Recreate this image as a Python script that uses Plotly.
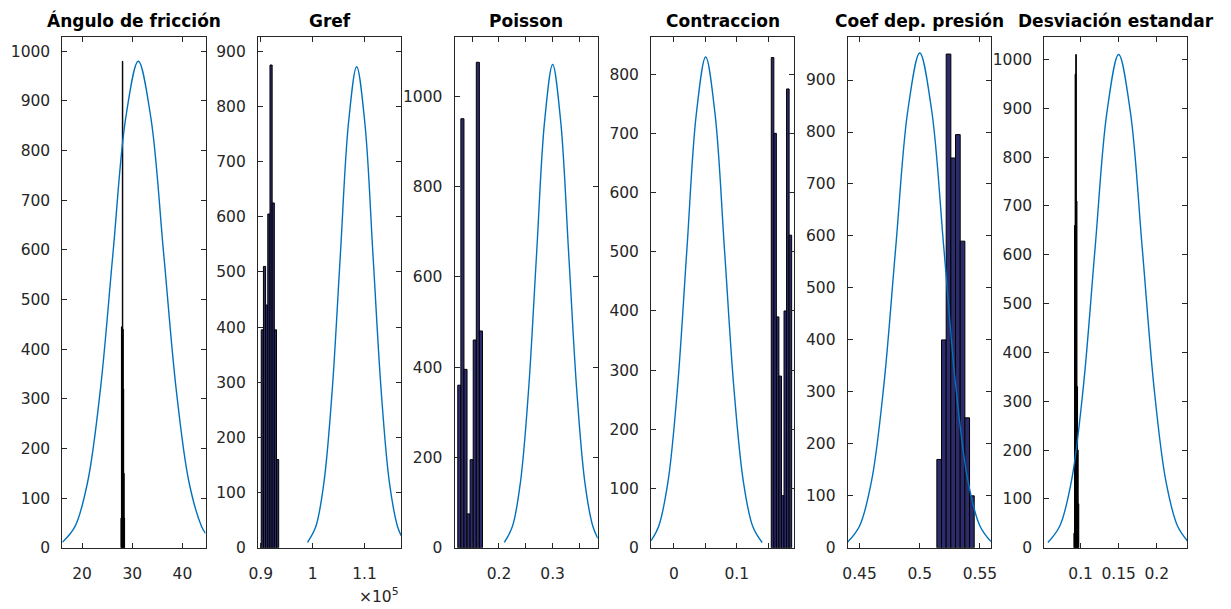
import plotly.graph_objects as go

# ---------------- data ----------------
titles = ["Ángulo de fricción", "Gref", "Poisson", "Contraccion",
          "Coef dep. presión", "Desviación estandar"]

# histogram bins: first edge, bin width, counts
hist_start = [27.75, 90100, 0.1233, 0.1550, 0.5142, 0.0912]
hist_width = [0.09, 420, 0.00575, 0.00406, 0.00388, 0.0008]
counts_friccion = [60, 445, 430, 980, 440, 320, 150, 60]
counts_gref = [395, 510, 440, 605, 875, 625, 395, 160]
counts_poisson = [360, 950, 395, 75, 195, 460, 1075, 480]
counts_contraccion = [828, 700, 390, 290, 88, 400, 775, 528]
counts_coef = [170, 400, 950, 750, 795, 590, 250, 100]
counts_desv = [30, 660, 970, 1010, 710, 330, 200, 90]

# blue curves: points
curve_x_friccion = [16.08, 18.6, 21.12, 23.64, 26.16, 28.68, 31.2, 33.72, 36.24, 38.76, 41.28, 43.8, 44.6]
curve_y_friccion = [11, 43, 133, 318, 594, 865, 980, 865, 594, 318, 133, 43, 29]
curve_x_gref = [99015, 100593, 102170, 103748, 105325, 106903, 108480, 110058, 111635, 113213, 114790, 116368, 117050]
curve_y_gref = [10, 38, 118, 283, 529, 770, 872, 770, 529, 283, 118, 38, 22]
curve_x_poisson = [0.21, 0.225, 0.24, 0.255, 0.27, 0.285, 0.30, 0.315, 0.33, 0.345, 0.36, 0.375, 0.384]
curve_y_poisson = [12, 47, 145, 347, 649, 944, 1070, 944, 649, 347, 145, 47, 21]
curve_x_contraccion = [-0.0365, -0.0245, -0.0095, 0.0055, 0.0205, 0.0355, 0.0505, 0.0655, 0.0805, 0.0955, 0.1105, 0.1255, 0.1405]
curve_y_contraccion = [12, 36, 112, 269, 503, 732, 829, 732, 503, 269, 112, 36, 9]
curve_x_coef = [0.4401, 0.45, 0.46, 0.47, 0.48, 0.49, 0.50, 0.51, 0.52, 0.53, 0.54, 0.55, 0.5591]
curve_y_coef = [11, 42, 129, 309, 577, 840, 952, 840, 577, 309, 129, 42, 12]
curve_x_desv = [0.057, 0.0725, 0.088, 0.1035, 0.119, 0.1345, 0.15, 0.1655, 0.181, 0.1965, 0.212, 0.2275, 0.2404]
curve_y_desv = [11, 44, 137, 328, 613, 891, 1010, 891, 613, 328, 137, 44, 14]

# axes
x_ranges = [[16.07, 44.6], [89460, 117050], [0.1172, 0.384], [-0.0365, 0.1917],
            [0.4401, 0.5591], [0.0522, 0.2404]]
y_ranges = [[0, 1028], [0, 925], [0, 1130], [0, 862], [0, 982], [0, 1045]]
x_tickvals = [[20, 30, 40], [90000, 100000, 110000], [0.2, 0.3],
              [0, 0.1], [0.45, 0.5, 0.55], [0.1, 0.15, 0.2]]
x_ticktext = [["20", "30", "40"], ["0.9", "1", "1.1"], ["0.2", "0.3"],
              ["0", "0.1"], ["0.45", "0.5", "0.55"], ["0.1", "0.15", "0.2"]]
x_unlabeled_ticks = [[], [], [0.15, 0.25, 0.35], [0.05, 0.15], [], []]
y_dtick = [100, 100, 200, 100, 100, 100]

counts_all = [counts_friccion, counts_gref, counts_poisson, counts_contraccion, counts_coef, counts_desv]
curves_x = [curve_x_friccion, curve_x_gref, curve_x_poisson, curve_x_contraccion, curve_x_coef, curve_x_desv]
curves_y = [curve_y_friccion, curve_y_gref, curve_y_poisson, curve_y_contraccion, curve_y_coef, curve_y_desv]

# ---------------- layout / style ----------------
W, H = 1231, 609
panel_left = [54, 252, 451, 650, 849, 1048]
panel_w = 145
top_px, bot_px = 38, 556
BAR = "#2c2c6c"
CURVE = "#0072BD"
AXC = "#262626"
FONT = "DejaVu Sans, sans-serif"

fig = go.Figure()
layout = {}
for i in range(6):
    sfx = "" if i == 0 else str(i + 1)
    xa, ya = "x" + sfx, "y" + sfx
    n = len(counts_all[i])
    centers = [hist_start[i] + (k + 0.5) * hist_width[i] for k in range(n)]
    fig.add_trace(go.Bar(x=centers, y=counts_all[i], width=[hist_width[i]] * n,
                         marker=dict(color=BAR, line=dict(color="black", width=1)),
                         xaxis=xa, yaxis=ya, showlegend=False, hoverinfo="skip"))
    fig.add_trace(go.Scatter(x=curves_x[i], y=curves_y[i], mode="lines",
                             line=dict(color=CURVE, width=1.4, shape="spline", smoothing=1.0),
                             xaxis=xa, yaxis=ya, showlegend=False))
    l = panel_left[i]
    xdict = dict(
        domain=[l / W, (l + panel_w) / W], anchor=ya, range=x_ranges[i],
        tickmode="array", tickvals=x_tickvals[i], ticktext=x_ticktext[i],
        ticks="inside", ticklen=5, tickcolor=AXC, showline=True, mirror="ticks",
        linecolor=AXC, linewidth=1, showgrid=False, zeroline=False,
        ticklabelstandoff=12,
        tickfont=dict(family=FONT, size=15.5, color=AXC))
    if x_unlabeled_ticks[i]:
        xdict["minor"] = dict(tickmode="array", tickvals=x_unlabeled_ticks[i],
                              ticks="inside", ticklen=5, tickcolor=AXC, showgrid=False)
    layout["xaxis" + sfx] = xdict
    layout["yaxis" + sfx] = dict(
        domain=[(H - bot_px) / H, (H - top_px) / H], anchor=xa, range=y_ranges[i],
        dtick=y_dtick[i], tick0=0,
        ticks="inside", ticklen=5, tickcolor=AXC, showline=True, mirror="ticks",
        linecolor=AXC, linewidth=1, showgrid=False, zeroline=False,
        ticklabelstandoff=8,
        tickfont=dict(family=FONT, size=15.5, color=AXC))

annotations = []
for i in range(6):
    cx = (panel_left[i] + panel_w / 2) / W
    annotations.append(dict(text="<b>" + titles[i] + "</b>", x=cx, y=(H - 21) / H,
                            xref="paper", yref="paper", xanchor="center", yanchor="middle",
                            showarrow=False, font=dict(family=FONT, size=17, color="black")))
annotations.append(dict(text="×10<sup>5</sup>", x=(panel_left[1] + panel_w) / W, y=(H - 604) / H,
                        xref="paper", yref="paper", xanchor="right", yanchor="middle",
                        showarrow=False, font=dict(family=FONT, size=15.5, color=AXC)))

fig.update_layout(width=W, height=H, margin=dict(l=0, r=0, t=0, b=0),
                  paper_bgcolor="white", plot_bgcolor="white", barmode="overlay",
                  annotations=annotations, **layout)

fig.write_html("out.html")
